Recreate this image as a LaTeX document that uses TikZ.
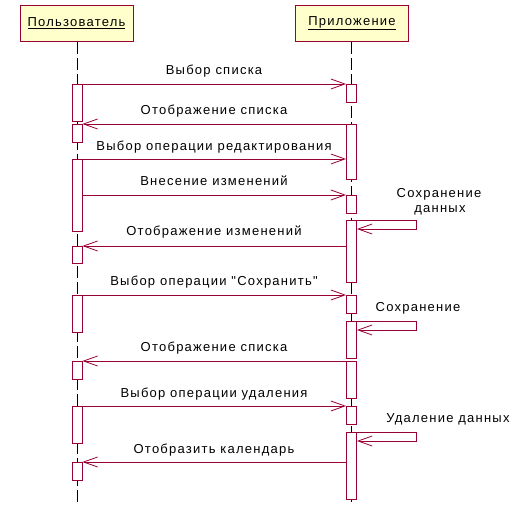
\documentclass[tikz,border=0pt]{standalone}
\usepackage{fontspec}
\setmainfont[LetterSpace=9.5, Ligatures=TeXOff]{Liberation Sans}
\usetikzlibrary{arrows.meta}
\definecolor{rose}{HTML}{990033}
\definecolor{headfill}{HTML}{FFFFCC}
\newcommand\actbox[4]{\node[act, minimum height={#4-#3}, anchor=north] (#1) at (#2,#3) {};}
\begin{document}
\begin{tikzpicture}[x=1pt,y=-1pt,
  act/.style={draw=rose, fill=white, line width=0.9pt, minimum width=10pt, inner sep=0pt},
  msg/.style={draw=rose, line width=0.9pt, -{Straight Barb[length=14pt,width=10pt,line width=0.8pt]}},
  lbl/.style={font=\fontsize{13}{15}\selectfont, inner sep=0pt, anchor=base},
  head/.style={draw=rose, fill=headfill, line width=0.9pt, minimum width=113pt, minimum height=36pt, inner sep=0pt, font=\fontsize{13}{15}\selectfont},
  life/.style={line width=0.9pt, dash pattern=on 12pt off 4pt}]
\useasboundingbox (0,0) rectangle (519,518);
% headers
\node[head, anchor=north] (user) at (76.5,5) {\underline{Пользователь}};
\node[head, anchor=north] (app) at (352,5) {\underline{Приложение}};
% lifelines
\coordinate (uend) at (77,505);
\coordinate (aend) at (351.5,505);
\draw[life] (user.south -| uend) -- (uend);
\draw[life] (app.south -| aend) -- (aend);
% user activations
\actbox{u1}{77}{84}{121}
\actbox{u2}{77}{124}{142}
\actbox{u3}{77}{159}{231}
\actbox{u4}{77}{246}{263}
\actbox{u5}{77}{295}{332}
\actbox{u6}{77}{361}{379}
\actbox{u7}{77}{406}{443}
\actbox{u8}{77}{462}{480}
% app activations
\actbox{a1}{351.5}{84}{102}
\actbox{a2}{351.5}{124}{179}
\actbox{a3}{351.5}{195}{213}
\actbox{a4}{351.5}{220}{282}
\actbox{a5}{351.5}{295}{313}
\actbox{a6}{351.5}{321}{358}
\actbox{a7}{351.5}{361}{398}
\actbox{a8}{351.5}{406}{424}
\actbox{a9}{351.5}{432}{499}
% message end points inside boxes
\coordinate (m3) at (a2.west |- 0,159);
\coordinate (m4) at (u3.east |- 0,195);
\coordinate (m5) at (a4.west |- 0,246);
\coordinate (m9) at (a9.west |- 0,462);
\coordinate (s1a) at (416,220);
\coordinate (s1b) at (416,229);
\coordinate (s1c) at (a4.east |- s1b);
\coordinate (s2a) at (416,321);
\coordinate (s2b) at (416,330);
\coordinate (s2c) at (a6.east |- s2b);
\coordinate (s3a) at (416,432);
\coordinate (s3b) at (416,441);
\coordinate (s3c) at (a9.east |- s3b);
% messages
\draw[msg] (u1.north east) -- (a1.north west);
\draw[msg] (a2.north west) -- (u2.north east);
\draw[msg] (u3.north east) -- (m3);
\draw[msg] (m4) -- (a3.north west);
\draw[msg] (m5) -- (u4.north east);
\draw[msg] (u5.north east) -- (a5.north west);
\draw[msg] (a7.north west) -- (u6.north east);
\draw[msg] (u7.north east) -- (a8.north west);
\draw[msg] (m9) -- (u8.north east);
\draw[msg] (a4.north east) -- (s1a) -- (s1b) -- (s1c);
\draw[msg] (a6.north east) -- (s2a) -- (s2b) -- (s2c);
\draw[msg] (a9.north east) -- (s3a) -- (s3b) -- (s3c);
% labels
\node[lbl] (l1) at (214,75) {Выбор списка};
\node[lbl] (l2) at (214,115) {Отображение списка};
\node[lbl] (l3) at (214,151) {Выбор операции редактирования};
\node[lbl] (l4) at (214,186) {Внесение изменений};
\node[lbl] (l5) at (214,236) {Отображение изменений};
\node[lbl] (l6) at (214,286) {Выбор операции "Сохранить"};
\node[lbl] (l7) at (214,352) {Отображение списка};
\node[lbl] (l8) at (214,397) {Выбор операции удаления};
\node[lbl] (l9) at (214,453) {Отобразить календарь};
\node[lbl] (sl1a) at (439,197.5) {Сохранение};
\node[lbl] (sl1b) at (440,213) {данных};
\node[lbl] (sl2) at (418,312) {Сохранение};
\node[lbl] (sl3) at (448,422) {Удаление данных};
\end{tikzpicture}
\end{document}
